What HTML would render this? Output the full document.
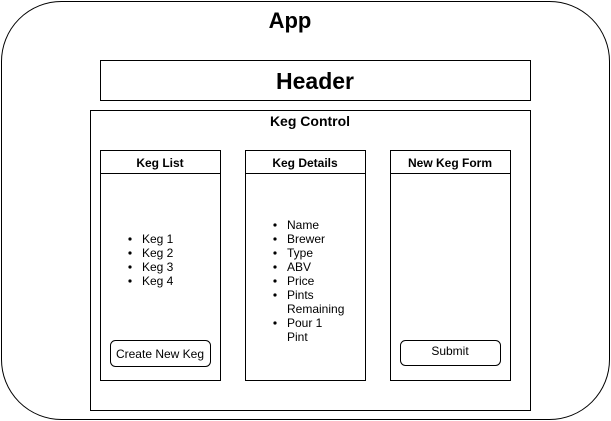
<!DOCTYPE html>
<html><head><style>body{margin:0;background:#fff}svg{display:block}text{font-family:"Liberation Sans",Arial,sans-serif;fill:#000}</style></head><body>
<svg width="611" height="421" viewBox="0 0 611 421" xmlns="http://www.w3.org/2000/svg">
<g fill="none" stroke="#000" stroke-width="1">
<rect x="1.5" y="1.5" width="608" height="418" rx="60" ry="60"/>
<rect x="100.5" y="60.5" width="430" height="40"/>
<rect x="90.5" y="110.5" width="440" height="300"/>
<rect x="100.5" y="150.5" width="120" height="230"/><line x1="100.5" y1="173.5" x2="220.5" y2="173.5"/>
<rect x="245.5" y="150.5" width="120" height="230"/><line x1="245.5" y1="173.5" x2="365.5" y2="173.5"/>
<rect x="390.5" y="150.5" width="120" height="230"/><line x1="390.5" y1="173.5" x2="510.5" y2="173.5"/>
<rect x="110.5" y="340.5" width="100" height="26" rx="5"/>
<rect x="400.5" y="340.5" width="100" height="25" rx="5"/>
</g>
<text x="290" y="28" font-size="22" font-weight="bold" text-anchor="middle">App</text>
<text x="315" y="89" font-size="23" font-weight="bold" text-anchor="middle">Header</text>
<text x="310" y="126" font-size="14" font-weight="bold" text-anchor="middle">Keg Control</text>
<text x="160" y="167" font-size="12" font-weight="bold" text-anchor="middle">Keg List</text>
<text x="305" y="167" font-size="12" font-weight="bold" text-anchor="middle">Keg Details</text>
<text x="450" y="167" font-size="12" font-weight="bold" text-anchor="middle">New Keg Form</text>
<g font-size="12">
<text x="142" y="243">Keg 1</text><text x="142" y="257">Keg 2</text><text x="142" y="271">Keg 3</text><text x="142" y="285">Keg 4</text>
<text x="287" y="229">Name</text><text x="287" y="243">Brewer</text><text x="287" y="257">Type</text><text x="287" y="271">ABV</text><text x="287" y="285">Price</text><text x="287" y="299">Pints</text><text x="287" y="313">Remaining</text><text x="287" y="327">Pour 1</text><text x="287" y="341">Pint</text>
<text x="160" y="358" text-anchor="middle">Create New Keg</text>
<text x="450" y="355" text-anchor="middle">Submit</text>
</g>
<g fill="#000">
<circle cx="130" cy="239" r="1.6"/><circle cx="130" cy="253" r="1.6"/><circle cx="130" cy="267" r="1.6"/><circle cx="130" cy="281" r="1.6"/>
<circle cx="275" cy="225" r="1.6"/><circle cx="275" cy="239" r="1.6"/><circle cx="275" cy="253" r="1.6"/><circle cx="275" cy="267" r="1.6"/><circle cx="275" cy="281" r="1.6"/><circle cx="275" cy="295" r="1.6"/><circle cx="275" cy="323" r="1.6"/>
</g>
</svg>
</body></html>
